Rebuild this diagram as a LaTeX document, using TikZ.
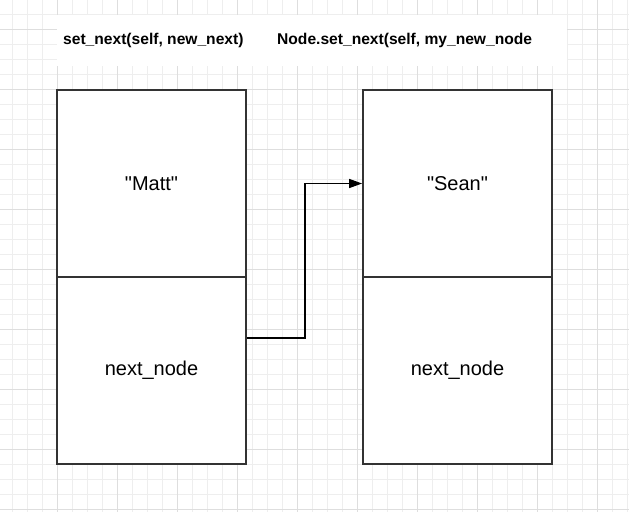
\documentclass[tikz,border=0pt]{standalone}
\usepackage{fontspec}
\setmainfont{Liberation Sans}[Ligatures=TeXOff]
\usetikzlibrary{arrows.meta}
\definecolor{gridminor}{HTML}{EEEEEE}
\definecolor{gridmajor}{HTML}{DEDEDE}
\definecolor{boxline}{HTML}{333333}
\tikzset{
  minorline/.style={draw=gridminor, line width=1pt},
  majorline/.style={draw=gridmajor, line width=1pt},
  cell/.style={draw=boxline, line width=1.8pt, fill=white, minimum width=189pt, minimum height=187pt, inner sep=0pt, font=\fontsize{20}{24}\selectfont},
  titletext/.style={anchor=west, inner sep=0pt, font=\bfseries\fontsize{15.6}{18}\selectfont},
  link/.style={draw=black, line width=1.4pt, -{Triangle[length=13pt,width=9pt]}}
}
\begin{document}
\begin{tikzpicture}[x=1pt,y=-1pt]
\useasboundingbox (0,0) rectangle (629,512);
\fill[white] (0,0) rectangle (629,512);
% grid
\foreach \i in {0,...,41} {
  \draw[minorline] (12.3+15*\i,0) -- (12.3+15*\i,512);
}
\foreach \i in {0,...,33} {
  \draw[minorline] (0,14.3+15*\i) -- (629,14.3+15*\i);
}
\foreach \i in {0,...,10} {
  \draw[majorline] (-2.7+60*\i,0) -- (-2.7+60*\i,512);
}
\foreach \i in {0,...,8} {
  \draw[majorline] (0,29.3+60*\i) -- (629,29.3+60*\i);
}
% title band
\fill[white] (57,15) rectangle (567,66);
\node[titletext] (t1) at (63,40) {set\_next(self, new\_next)};
\node[titletext] (t2) at (277,40) {Node.set\_next(self, my\_new\_node};
% boxes
\node[cell] (matt) at (151.5,183.5) {"Matt"};
\node[cell] (mattnext) at (151.5,370.5) {next\_node};
\node[cell] (sean) at (457.5,183.5) {"Sean"};
\node[cell] (seannext) at (457.5,370.5) {next\_node};
% connector
\draw[link] ([yshift=32.5pt]mattnext.east) -- ++(58,0) |- (sean.west);
\end{tikzpicture}
\end{document}
